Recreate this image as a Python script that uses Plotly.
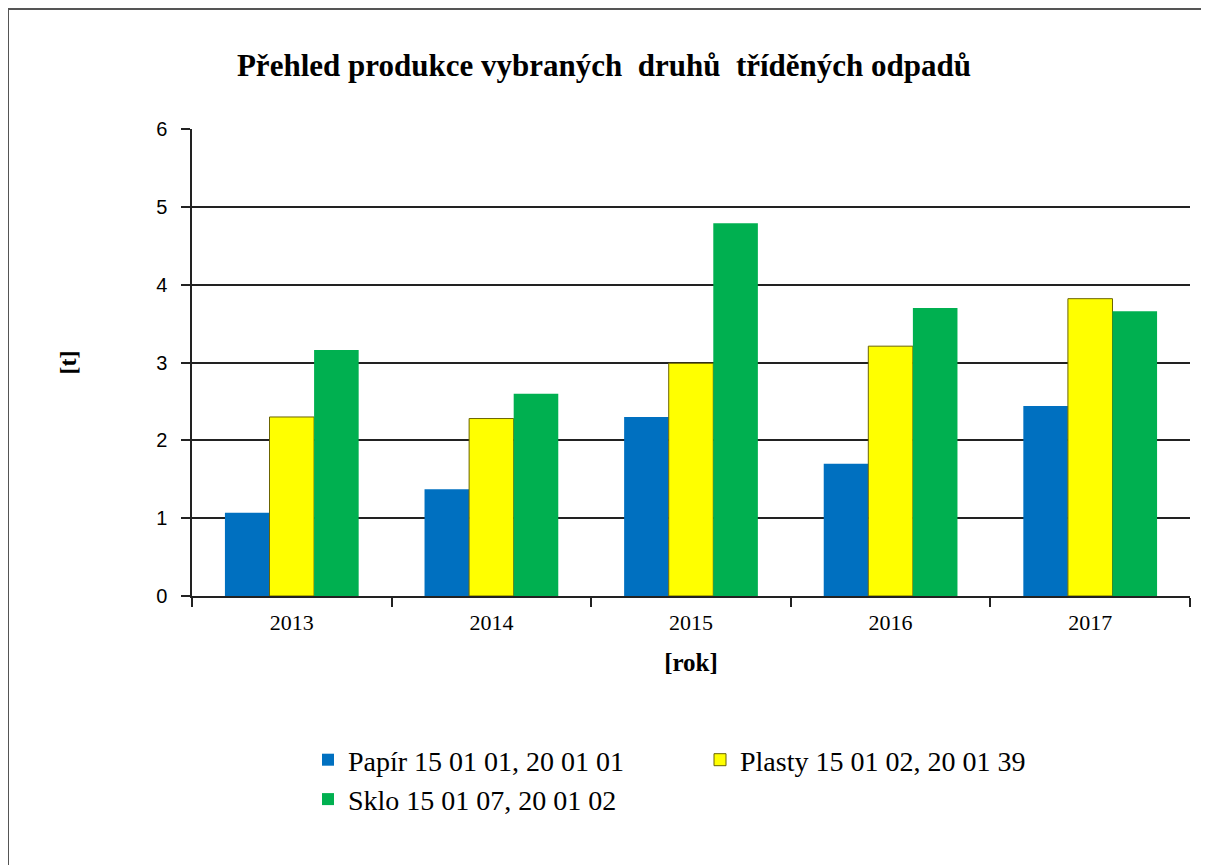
import plotly.graph_objects as go

years = ["2013", "2014", "2015", "2016", "2017"]
papir = [1.07, 1.37, 2.30, 1.70, 2.44]
plasty = [2.30, 2.28, 2.99, 3.21, 3.82]
sklo = [3.16, 2.60, 4.79, 3.70, 3.66]
series_names = ["Papír 15 01 01, 20 01 01", "Plasty 15 01 02, 20 01 39", "Sklo 15 01 07, 20 01 02"]
y_ticks = [0, 1, 2, 3, 4, 5, 6]

# page is offset by the 8px body margin, so work in page coordinates
OFF = 8
W, H = 1209 - OFF, 865 - OFF
L, R, T, B = 192 - OFF, 1190 - OFF, 129 - OFF, 596 - OFF
pw, ph = R - L, B - T

def px(x):
    return (x - OFF - L) / pw

def py(y):
    return (B - (y - OFF)) / ph

serif = "Liberation Serif, Times New Roman, serif"

fig = go.Figure()
fig.add_trace(go.Bar(x=years, y=papir, name=series_names[0],
                     marker=dict(color="#0070C0", line=dict(width=0))))
fig.add_trace(go.Bar(x=years, y=plasty, name=series_names[1],
                     marker=dict(color="#FFFF00", line=dict(color="#6b6400", width=1))))
fig.add_trace(go.Bar(x=years, y=sklo, name=series_names[2],
                     marker=dict(color="#00B050", line=dict(width=0))))

fig.update_layout(
    width=W, height=H,
    margin=dict(l=L, r=W - R, t=T, b=H - B, pad=0),
    paper_bgcolor="white", plot_bgcolor="white",
    barmode="group", bargap=0.33, bargroupgap=0,
    title=dict(text="Přehled produkce vybraných\u00a0 druhů\u00a0 tříděných odpadů",
               x=(604 - OFF) / W, xanchor="center", y=1 - (65 - OFF) / H, yanchor="middle",
               font=dict(family=serif, size=31, color="black", weight="bold")),
    showlegend=True,
    legend=dict(orientation="h", x=px(308), xanchor="left", y=py(735), yanchor="top",
                font=dict(family=serif, size=28, color="black"),
                entrywidth=347, entrywidthmode="pixels",
                traceorder="normal", itemwidth=30, tracegroupgap=0,
                bgcolor="rgba(0,0,0,0)"),
    xaxis=dict(type="category", showline=True, linecolor="#222", linewidth=1.5,
               ticks="outside", tickson="boundaries", ticklen=9, tickcolor="#222", tickwidth=1.5,
               ticklabelstandoff=6,
               tickfont=dict(family=serif, size=22, color="black"),
               showgrid=False,
               title=dict(text="<b>[rok]</b>", font=dict(family=serif, size=25, color="black"),
                          standoff=19)),
    yaxis=dict(range=[0, 6], tickvals=y_ticks, showline=True, linecolor="#222", linewidth=1.5,
               ticks="outside", ticklen=9, tickcolor="#222", tickwidth=1.5,
               ticklabelstandoff=10,
               tickfont=dict(family="Liberation Sans, Arial, sans-serif", size=20, color="black"),
               showgrid=True, gridcolor="#222", gridwidth=1.5, zeroline=False,
               title=dict(text="<b>[t]</b>", font=dict(family=serif, size=24, color="black"),
                          standoff=73)),
)

# outer chart frame (left and top edges visible)
fig.add_shape(type="line", xref="paper", yref="paper",
              x0=px(8), x1=px(8), y0=py(9), y1=py(890),
              line=dict(color="#555", width=2))
fig.add_shape(type="line", xref="paper", yref="paper",
              x0=px(8), x1=px(1230), y0=py(9), y1=py(9),
              line=dict(color="#555", width=2))

fig.write_html("out.html")
